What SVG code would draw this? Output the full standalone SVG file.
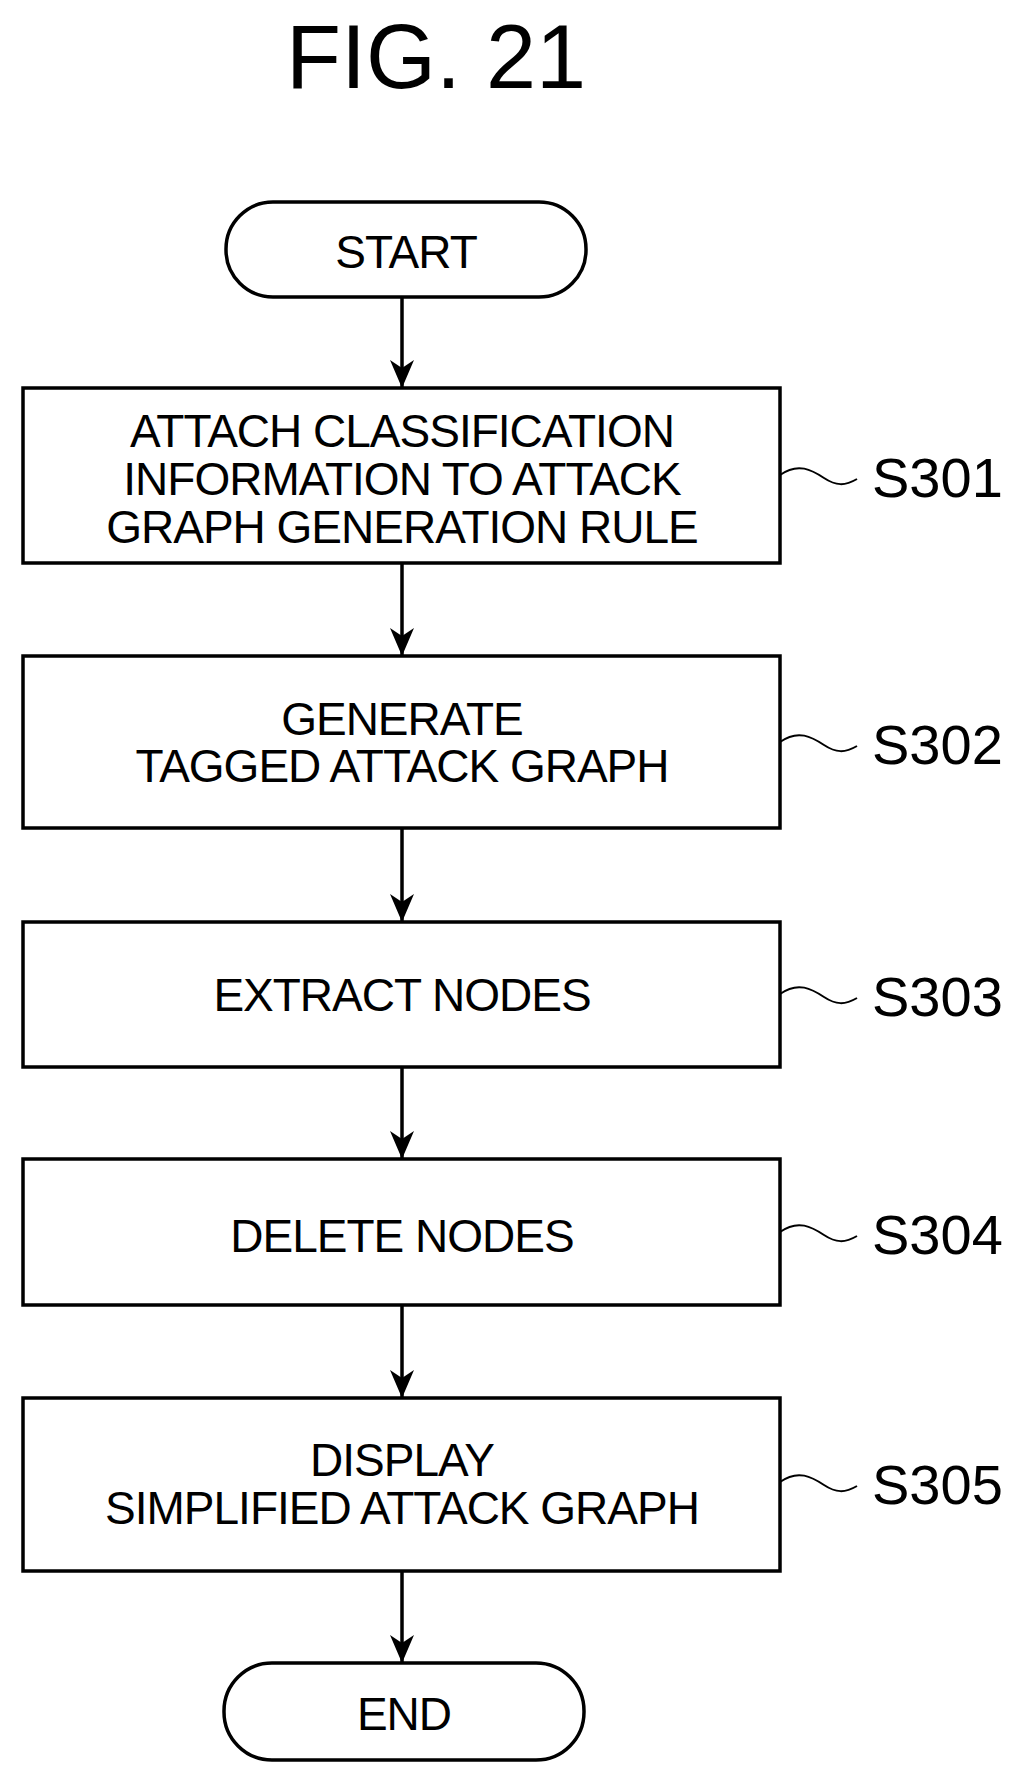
<svg xmlns="http://www.w3.org/2000/svg" width="1017" height="1782" viewBox="0 0 1017 1782">
<style>
.b{fill:#fff;stroke:#000;stroke-width:3.5}
.t{font-family:"Liberation Sans",Arial,sans-serif;font-size:46px;text-anchor:middle;fill:#000;letter-spacing:-1px}
.l{font-family:"Liberation Sans",Arial,sans-serif;font-size:56px;fill:#000}
.c{fill:none;stroke:#000;stroke-width:3.5}
.w{fill:none;stroke:#000;stroke-width:2}
</style>
<defs><marker id="a" markerUnits="userSpaceOnUse" markerWidth="28" markerHeight="24" refX="28" refY="12" orient="auto" viewBox="0 0 28 24"><path d="M0,0 L8,12 L0,24 L28,12 Z" fill="#000"/></marker></defs>
<rect width="1017" height="1782" fill="#fff"/>
<text x="436" y="88" font-family="Liberation Sans,Arial,sans-serif" font-size="90" text-anchor="middle">FIG. 21</text>
<g id="connectors">
<line class="c" x1="402" y1="297" x2="402" y2="388" marker-end="url(#a)"/>
<line class="c" x1="402" y1="563" x2="402" y2="656" marker-end="url(#a)"/>
<line class="c" x1="402" y1="828" x2="402" y2="922" marker-end="url(#a)"/>
<line class="c" x1="402" y1="1067" x2="402" y2="1159" marker-end="url(#a)"/>
<line class="c" x1="402" y1="1305" x2="402" y2="1398" marker-end="url(#a)"/>
<line class="c" x1="402" y1="1571" x2="402" y2="1663" marker-end="url(#a)"/>
</g>
<g id="start"><rect class="b" x="226" y="202" width="360" height="95" rx="47"/><text class="t" x="406" y="268">START</text></g>
<g id="s301"><rect class="b" x="23" y="388" width="757" height="175"/>
<text class="t" x="402" y="447" font-size="44">ATTACH CLASSIFICATION</text>
<text class="t" x="402" y="495" font-size="44">INFORMATION TO ATTACK</text>
<text class="t" x="402" y="543" font-size="44">GRAPH GENERATION RULE</text>
<path class="w" d="M780,475 C798,462 812,470 824,478 S845,486 857,479"/><text class="l" x="872" y="497">S301</text></g>
<g id="s302"><rect class="b" x="23" y="656" width="757" height="172"/>
<text class="t" x="402" y="735">GENERATE</text><text class="t" x="402" y="782">TAGGED ATTACK GRAPH</text>
<path class="w" d="M780,742 C798,729 812,737 824,745 S845,753 857,746"/><text class="l" x="872" y="764">S302</text></g>
<g id="s303"><rect class="b" x="23" y="922" width="757" height="145"/>
<text class="t" x="402" y="1011">EXTRACT NODES</text>
<path class="w" d="M780,994 C798,981 812,989 824,997 S845,1005 857,998"/><text class="l" x="872" y="1016">S303</text></g>
<g id="s304"><rect class="b" x="23" y="1159" width="757" height="146"/>
<text class="t" x="402" y="1252">DELETE NODES</text>
<path class="w" d="M780,1232 C798,1219 812,1227 824,1235 S845,1243 857,1236"/><text class="l" x="872" y="1254">S304</text></g>
<g id="s305"><rect class="b" x="23" y="1398" width="757" height="173"/>
<text class="t" x="402" y="1476">DISPLAY</text><text class="t" x="402" y="1524">SIMPLIFIED ATTACK GRAPH</text>
<path class="w" d="M780,1482 C798,1469 812,1477 824,1485 S845,1493 857,1486"/><text class="l" x="872" y="1504">S305</text></g>
<g id="end"><rect class="b" x="224" y="1663" width="360" height="97" rx="48"/><text class="t" x="404" y="1730">END</text></g>
</svg>
